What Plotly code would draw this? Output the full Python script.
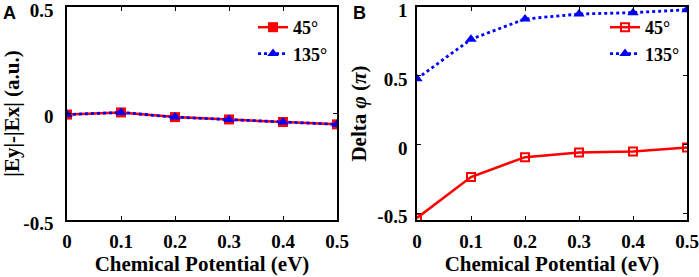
import plotly.graph_objects as go

mu = [0, 0.1, 0.2, 0.3, 0.4, 0.5]
a_45 = [-0.005, 0.005, -0.017, -0.028, -0.04, -0.051]
a_135 = [-0.005, 0.005, -0.017, -0.028, -0.04, -0.051]
b_45 = [-0.53, -0.234, -0.089, -0.056, -0.048, -0.02]
b_135 = [0.48, 0.766, 0.913, 0.949, 0.959, 0.98]
x_ticks = [0, 0.1, 0.2, 0.3, 0.4, 0.5]
x_ticklabels = ["0", "0.1", "0.2", "0.3", "0.4", "0.5"]
a_yticks = [-0.5, 0, 0.5]
a_yticklabels = ["-0.5", "0", "0.5"]
b_yticks = [-0.5, 0, 0.5, 1]
b_yticklabels = ["-0.5", "0", "0.5", "1"]

RED = "#ff0000"
BLUE = "#0000ff"
FONT = "Liberation Serif, Times New Roman, serif"

fig = go.Figure()
fig.add_trace(go.Scatter(x=mu, y=a_45, name="<b>45°</b>", mode="lines+markers",
                         line=dict(color=RED, width=2.5),
                         marker=dict(symbol="square", size=10, color=RED),
                         xaxis="x", yaxis="y", legend="legend"))
fig.add_trace(go.Scatter(x=mu, y=a_135, name="<b>135°</b>", mode="lines+markers",
                         line=dict(color=BLUE, width=2.8, dash="dot"),
                         marker=dict(symbol="triangle-up", size=10, color=BLUE),
                         xaxis="x", yaxis="y", legend="legend"))
fig.add_trace(go.Scatter(x=mu, y=b_45, name="<b>45°</b>", mode="lines+markers",
                         line=dict(color=RED, width=2.5),
                         marker=dict(symbol="square-open", size=8, color=RED, line=dict(width=2)),
                         xaxis="x2", yaxis="y2", legend="legend2"))
fig.add_trace(go.Scatter(x=mu, y=b_135, name="<b>135°</b>", mode="lines+markers",
                         line=dict(color=BLUE, width=2.8, dash="dot"),
                         marker=dict(symbol="triangle-up", size=10, color=BLUE),
                         xaxis="x2", yaxis="y2", legend="legend2"))

W, H = 699, 277
ydom = [1 - 220 / H, 1 - 7 / H]

axis_common = dict(showline=True, linecolor="black", linewidth=1.5, mirror="ticks",
                   ticks="inside", ticklen=4, tickcolor="black", tickwidth=1.2,
                   showgrid=False, zeroline=False, automargin=False,
                   ticklabeloverflow="allow",
                   tickfont=dict(family=FONT, size=19, color="black"))

xtitle = dict(text="<b>Chemical Potential (eV)</b>", font=dict(family=FONT, size=21, color="black"), standoff=0)


def bold(labels):
    return ["<b>%s</b>" % t for t in labels]


fig.update_layout(
    width=W, height=H, margin=dict(l=0, r=0, t=0, b=0),
    paper_bgcolor="white", plot_bgcolor="white",
    font=dict(family=FONT, color="black"),
    xaxis=dict(domain=[67 / W, 337 / W], range=[0, 0.5], tickvals=x_ticks,
               ticktext=bold(x_ticklabels), anchor="y",
               title=xtitle, ticklabelstandoff=3, **axis_common),
    yaxis=dict(domain=ydom, range=[-0.5, 0.5], tickvals=a_yticks,
               ticktext=bold(a_yticklabels), anchor="x",
               title=dict(text="<b>|Ey|-|Ex| (a.u.)</b>", font=dict(family=FONT, size=21, color="black"), standoff=3),
               ticklabelstandoff=8, ticklabelshift=3, **axis_common),
    xaxis2=dict(domain=[417 / W, 687 / W], range=[0, 0.5], tickvals=x_ticks,
                ticktext=bold(x_ticklabels), anchor="y2",
                title=xtitle, ticklabelstandoff=3, **axis_common),
    yaxis2=dict(domain=ydom, range=[-0.545, 1], tickvals=b_yticks,
                ticktext=bold(b_yticklabels), anchor="x2",
                title=dict(text="<b>Delta <i>φ</i> (<i>π</i>)</b>", font=dict(family=FONT, size=21, color="black"), standoff=5),
                ticklabelstandoff=4, ticklabelshift=3, **axis_common),
    legend=dict(x=253 / W, y=1 - 9 / H, xanchor="left", yanchor="top",
                bgcolor="rgba(255,255,255,0)", font=dict(family=FONT, size=18, color="black"),
                tracegroupgap=0, itemwidth=30),
    legend2=dict(x=605 / W, y=1 - 9 / H, xanchor="left", yanchor="top",
                 bgcolor="rgba(255,255,255,0)", font=dict(family=FONT, size=18, color="black"),
                 tracegroupgap=0, itemwidth=30),
    annotations=[
        dict(text="<b>A</b>", x=1 / W, y=1 - 1 / H, xref="paper", yref="paper", xanchor="left", yanchor="top",
             showarrow=False, font=dict(family="Liberation Sans", size=18, color="black")),
        dict(text="<b>B</b>", x=351 / W, y=1 - 1 / H, xref="paper", yref="paper", xanchor="left", yanchor="top",
             showarrow=False, font=dict(family="Liberation Sans", size=18, color="black")),
    ],
)

fig.write_html("out.html", config={"displayModeBar": False},
               post_script="document.body.style.margin='0';document.body.style.padding='0';document.body.style.overflow='hidden';")
